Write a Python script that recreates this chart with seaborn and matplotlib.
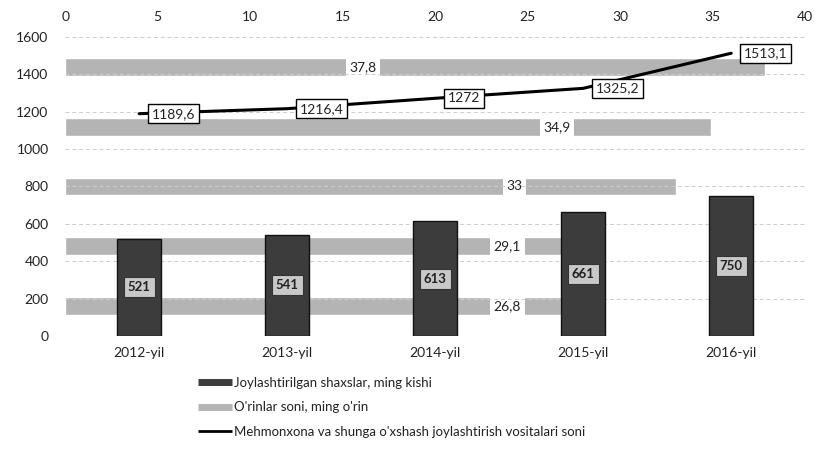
import matplotlib
matplotlib.use('Agg')
import matplotlib.pyplot as plt
import seaborn as sns
from matplotlib.lines import Line2D

# Ma'lumotlar
yillar = ['2012-yil', '2013-yil', '2014-yil', '2015-yil', '2016-yil']
joylashtirilgan = [521, 541, 613, 661, 750]          # ming kishi
orinlar = [26.8, 29.1, 33, 34.9, 37.8]               # ming o'rin
mehmonxonalar = [1189.6, 1216.4, 1272, 1325.2, 1513.1]
# O'rinlar yorlig'i joylashuvi (yuqori o'q bo'yicha)
orin_yorliq_x = [23.9, 23.9, 24.3, 26.6, 16.1]

sns.set_theme(style='white')
plt.rcParams['font.family'] = ['Lato', 'DejaVu Sans']

fig = plt.figure(figsize=(8.15, 4.54), dpi=100)
pos = [0.08, 0.26, 0.908, 0.6585]

# Orqa fon: gorizontal ustunlar (yuqori o'q 0-40)
ax2 = fig.add_axes(pos)
sns.barplot(x=orinlar, y=yillar, orient='h', color='#b4b4b4', width=0.3,
            saturation=1, ax=ax2)
ax2.set_ylim(-0.5, 4.5)
ax2.set_xlim(0, 40)
ax2.set_xticks(range(0, 41, 5))
ax2.xaxis.tick_top()
ax2.tick_params(axis='x', labelsize=10, length=0, pad=10, colors='#222222')
ax2.set_yticks([])
ax2.set_xlabel('')
ax2.set_ylabel('')
for s in ax2.spines.values():
    s.set_visible(False)
for i, (v, lx) in enumerate(zip(orinlar, orin_yorliq_x)):
    ax2.text(lx, i, f'{v:g}'.replace('.', ','), ha='center', va='center',
             fontsize=10, color='#222222',
             bbox=dict(boxstyle='square,pad=0.25', fc='white', ec='none'))

# Oldingi qatlam: vertikal ustunlar va chiziq (chap o'q 0-1600)
ax = fig.add_axes(pos)
ax.patch.set_visible(False)
sns.barplot(x=yillar, y=joylashtirilgan, color='#3c3c3c', width=0.3,
            saturation=1, edgecolor='#111111', linewidth=1, ax=ax)
ax.plot(range(len(yillar)), mehmonxonalar, color='black', lw=2.2, zorder=5)
ax.set_ylim(0, 1600)
ax.set_xlim(-0.5, 4.5)
ax.set_yticks(range(0, 1601, 200))
ax.yaxis.grid(True, color='#cccccc', linestyle=(0, (4, 3)), lw=0.7)
ax.set_axisbelow(True)
ax.tick_params(axis='y', labelsize=10, length=0, pad=12, colors='#222222')
ax.tick_params(axis='x', labelsize=10, length=0, pad=8, colors='#222222')
ax.set_xlabel('')
ax.set_ylabel('')
for s in ax.spines.values():
    s.set_visible(False)

for i, v in enumerate(joylashtirilgan):
    ax.text(i, v / 2, str(v), ha='center', va='center', fontsize=9.5,
            fontweight='bold', color='#222222', zorder=6,
            bbox=dict(boxstyle='square,pad=0.3', fc='#c8c8c8', ec='#333333', lw=0.8))

for i, v in enumerate(mehmonxonalar):
    ax.annotate(f'{v:g}'.replace('.', ','), (i, v), xytext=(9, 0),
                textcoords='offset points', ha='left', va='center',
                fontsize=10, color='#222222', zorder=7,
                bbox=dict(boxstyle='square,pad=0.25', fc='white', ec='black', lw=1))

handles = [
    Line2D([], [], color='#3c3c3c', lw=5, solid_capstyle='butt'),
    Line2D([], [], color='#b4b4b4', lw=5, solid_capstyle='butt'),
    Line2D([], [], color='black', lw=2, solid_capstyle='butt'),
]
labels = [
    'Joylashtirilgan shaxslar, ming kishi',
    "O'rinlar soni, ming o'rin",
    "Mehmonxona va shunga o'xshash joylashtirish vositalari soni",
]
fig.legend(handles, labels, loc='upper left', bbox_to_anchor=(0.235, 0.185),
           frameon=False, fontsize=9.5, handlelength=2.6, handletextpad=0.1,
           labelspacing=0.95, borderpad=0, labelcolor='#222222')

fig.savefig('out.png', dpi=100)
